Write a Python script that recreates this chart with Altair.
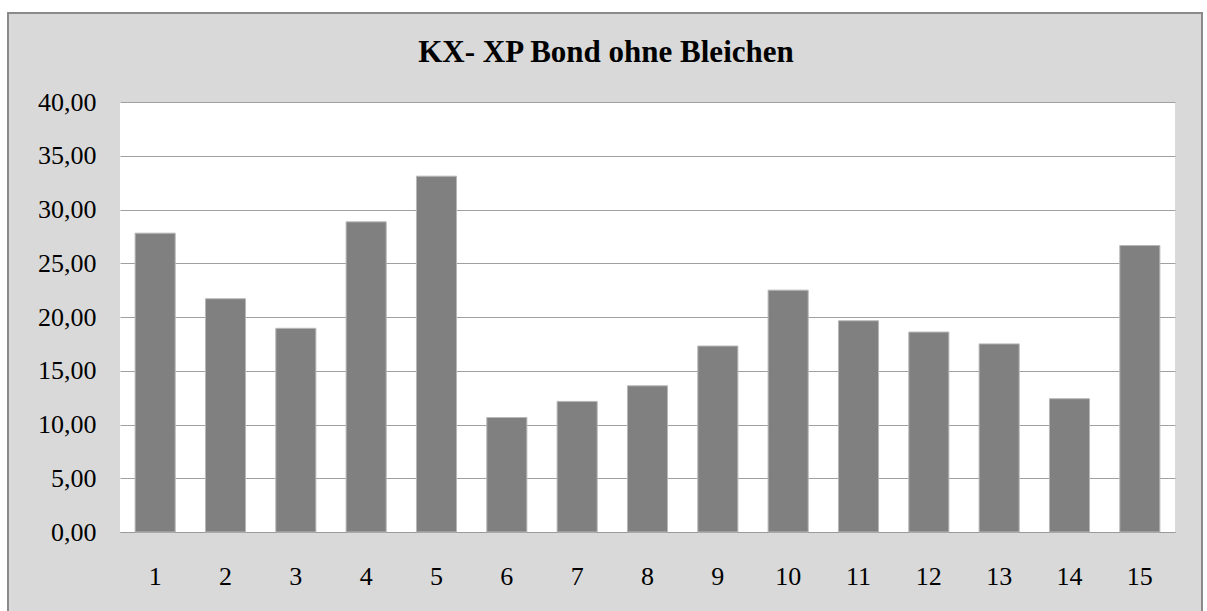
import altair as alt
import pandas as pd

categories = [str(i) for i in range(1, 16)]
values = [27.8, 21.7, 18.95, 28.85, 33.1, 10.65, 12.15, 13.6, 17.3, 22.5, 19.65, 18.6, 17.5, 12.4, 26.65]
y_ticks = [0, 5, 10, 15, 20, 25, 30, 35, 40]
title_text = "KX- XP Bond ohne Bleichen"

df = pd.DataFrame({"n": categories, "v": values})

W, H = 1055, 430
PL, PT = 120, 102
FONT = "Liberation Serif"

bars = alt.Chart(df).mark_bar(color="#808080", stroke="#b8b8b8", strokeWidth=1).encode(
    x=alt.X("n:O", sort=categories, title=None,
            scale=alt.Scale(paddingInner=0.43, paddingOuter=0.215),
            axis=alt.Axis(labelAngle=0, ticks=False, tickSize=0, labelPadding=31,
                          domainColor="#9a9a9a", domainWidth=1, grid=False,
                          labelFont=FONT, labelFontSize=26, labelColor="#000000")),
    y=alt.Y("v:Q", title=None,
            scale=alt.Scale(domain=[0, 40], nice=False),
            axis=alt.Axis(values=y_ticks, ticks=False, tickSize=0, domain=False,
                          labelPadding=24, gridColor="#a0a0a0", gridWidth=1,
                          labelExpr="replace(format(datum.value, '.2f'), '.', ',')",
                          labelFont=FONT, labelFontSize=26, labelColor="#000000")),
)

one = alt.Data(values=[{}])

def strip(x1, x2, y1, y2):
    return alt.Chart(one).mark_rect(fill="#ffffff", strokeWidth=0).encode(
        x=alt.value(x1), x2=alt.value(x2), y=alt.value(y1), y2=alt.value(y2))

left_strip = strip(-PL, 7 - PL, -PT, 611 - PT)
top_strip = strip(-PL, 1207 - PL, -PT, 12 - PT)
right_strip = strip(1203 - PL, 1207 - PL, -PT, 611 - PT)

frame = alt.Chart(one).mark_rect(filled=False, stroke="#8a8a8a", strokeWidth=2).encode(
    x=alt.value(8 - PL), x2=alt.value(1202 - PL), y=alt.value(13 - PT), y2=alt.value(640 - PT))

title = alt.Chart(one).mark_text(font=FONT, fontSize=31, fontWeight="bold", color="#000000",
                                 align="center", baseline="alphabetic").encode(
    x=alt.value(606 - PL), y=alt.value(62 - PT), text=alt.value(title_text))

chart = alt.layer(left_strip, top_strip, right_strip, frame, title, bars).properties(
    width=W, height=H,
    autosize=alt.AutoSizeParams(type="none"),
    padding={"left": PL, "top": PT, "right": 1207 - PL - W, "bottom": 611 - PT - H},
    background="#d9d9d9",
).configure_view(fill="#ffffff", stroke=None)

chart.save("out.html", embed_options={"renderer": "svg", "actions": False})
